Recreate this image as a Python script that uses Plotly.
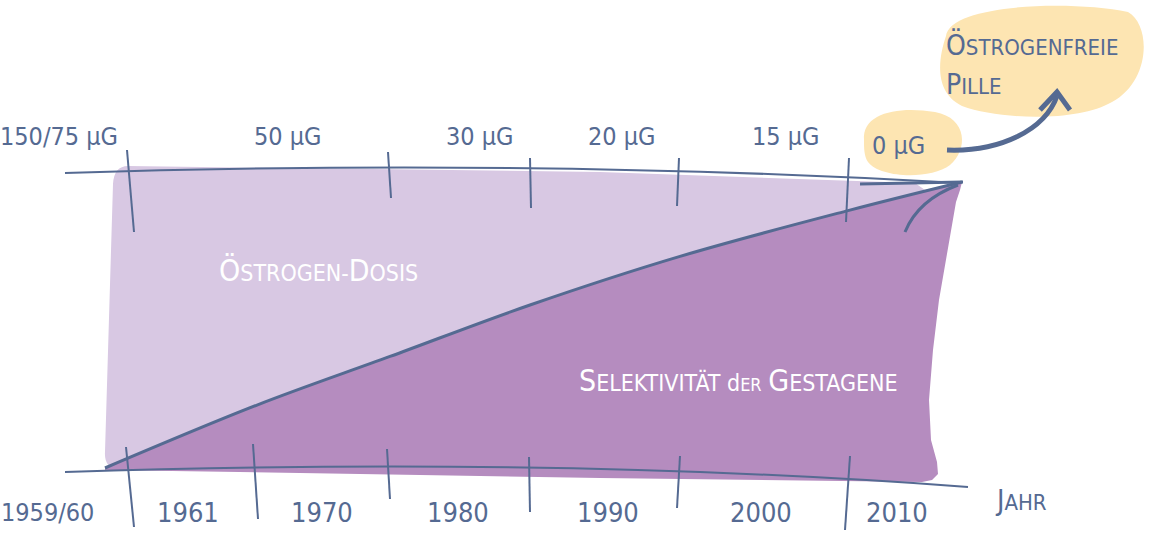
import plotly.graph_objects as go

# ---------------- data ----------------
dose_labels = ["150/75 µG", "50 µG", "30 µG", "20 µG", "15 µG", "0 µG"]
year_labels = ["1959/60", "1961", "1970", "1980", "1990", "2000", "2010"]
# relative selectivity of gestagens (0 = start, 1 = top), read along the time axis
selectivity = [0.0, 0.22, 0.39, 0.57, 0.74, 0.90, 1.0]

# ---------------- layout helpers (pixel frame) ----------------
INK = "#556a92"
LIGHT = "#d8c8e3"
DARK = "#b58cbf"
YELLOW = "#fde5b2"
FONT = "DejaVu Sans Condensed, Liberation Sans Narrow, sans-serif"

x_sel = [105, 257, 390, 530, 680, 848, 962]     # time positions of selectivity curve
y_bot, y_top = 468, 182
top_label_x = [59, 288, 480, 622, 786, 898]
top_label_y = [136, 136, 136, 136, 136, 145]
year_label_x = [47, 188, 322, 458, 608, 761, 897]
top_ticks = [((127, 150), (134, 232)), ((388, 152), (391, 198)), ((530, 158), (531, 208)),
             ((679, 158), (677, 206)), ((849, 158), (846, 222))]
bot_ticks = [((126, 447), (134, 527)), ((253, 444), (258, 519)), ((387, 449), (390, 499)),
             ((529, 457), (530, 512)), ((680, 456), (677, 508)), ((850, 456), (845, 530))]

fig = go.Figure()

shapes = []
# light estrogen area
shapes.append(dict(type="path", layer="below", line=dict(width=0), fillcolor=LIGHT,
    path="M 128,166 L 600,172 L 915,183 L 925,190 L 920,470 L 118,469 "
         "Q 104,468 105,452 L 113,184 Q 114,166 128,166 Z"))
# yellow blobs
shapes.append(dict(type="path", layer="below", line=dict(width=0), fillcolor=YELLOW,
    path="M 946,36 C 950,4 1070,0 1128,12 C 1152,26 1150,82 1112,102 "
         "C 1078,122 1000,120 962,106 C 934,92 938,60 946,36 Z"))
shapes.append(dict(type="path", layer="below", line=dict(width=0), fillcolor=YELLOW,
    path="M 864,140 C 862,112 900,106 935,112 C 968,118 968,150 950,165 "
         "C 930,180 880,178 868,162 C 864,156 864,148 864,140 Z"))

# dark selectivity area (built from the curve data)
ys = [y_bot - s * (y_bot - y_top) for s in selectivity]
fig.add_trace(go.Scatter(
    x=x_sel + [960, 956, 948, 939, 933, 929, 931, 937, 938, 932, 922, 600, 300, 105],
    y=ys + [190, 202, 250, 300, 350, 400, 440, 462, 474, 480, 482, 478, 473, 470],
    fill="toself", fillcolor=DARK, line=dict(width=0),
    mode="lines", hoverinfo="skip", showlegend=False))
# selectivity curve
fig.add_trace(go.Scatter(x=x_sel, y=ys, mode="lines",
    line=dict(color=INK, width=3, shape="spline"), hoverinfo="skip", showlegend=False))

# axis baselines (hand-drawn, slightly curved)
shapes.append(dict(type="path", line=dict(color=INK, width=2),
    path="M 65,173 Q 520,158 960,183"))
shapes.append(dict(type="path", line=dict(color=INK, width=2),
    path="M 65,472 Q 560,456 968,487"))
for (a, b) in top_ticks + bot_ticks:
    shapes.append(dict(type="line", x0=a[0], y0=a[1], x1=b[0], y1=b[1],
                       line=dict(color=INK, width=2)))
# accent strokes near the end of the curve
shapes.append(dict(type="line", x0=860, y0=184, x1=963, y1=182, line=dict(color=INK, width=3)))
shapes.append(dict(type="path", line=dict(color=INK, width=3),
    path="M 905,232 Q 918,200 958,185"))
# arrow to the estrogen-free pill
shapes.append(dict(type="path", line=dict(color=INK, width=5),
    path="M 947,150 C 1000,152 1045,130 1057,96"))
shapes.append(dict(type="path", line=dict(color=INK, width=5),
    path="M 1040,110 L 1057,92 L 1070,110"))

annotations = []
def sc(word, big=30, small=24):
    """emulate small caps: first letter big, rest small uppercase"""
    return f"<span style='font-size:{big}px'>{word[0]}</span>" + \
           f"<span style='font-size:{small}px'>{word[1:].upper()}</span>"

for lab, x, y in zip(dose_labels, top_label_x, top_label_y):
    annotations.append(dict(x=x, y=y, text=lab, showarrow=False,
                            font=dict(family=FONT, size=25, color=INK)))
for i, (lab, x) in enumerate(zip(year_labels, year_label_x)):
    annotations.append(dict(x=x, y=512, text=lab, showarrow=False,
                            font=dict(family=FONT, size=25 if i == 0 else 27, color=INK)))
annotations.append(dict(x=1021, y=500, text=sc("Jahr", 28, 22), showarrow=False,
                        font=dict(family=FONT, size=22, color=INK)))
annotations.append(dict(x=318, y=270, text=sc("Östrogen-", 30, 23) + sc("Dosis", 30, 23),
                        showarrow=False, font=dict(family=FONT, size=23, color="white")))
annotations.append(dict(x=738, y=380,
                        text=sc("Selektivität", 30, 23) + " " + sc("der", 23, 18) + " " + sc("Gestagene", 30, 23),
                        showarrow=False, font=dict(family=FONT, size=23, color="white")))
annotations.append(dict(x=944, y=45, xanchor="left", text=sc("Östrogenfreie", 28, 22),
                        showarrow=False, font=dict(family=FONT, size=22, color=INK)))
annotations.append(dict(x=944, y=84, xanchor="left", text=sc("Pille", 28, 22),
                        showarrow=False, font=dict(family=FONT, size=22, color=INK)))

fig.update_layout(
    width=1150, height=538, margin=dict(l=0, r=0, t=0, b=0),
    paper_bgcolor="white", plot_bgcolor="white",
    xaxis=dict(range=[0, 1150], visible=False, fixedrange=True),
    yaxis=dict(range=[538, 0], visible=False, fixedrange=True),
    shapes=shapes, annotations=annotations, showlegend=False,
)

fig.write_html("out.html", config={"displayModeBar": False},
               post_script="document.body.style.margin='0';")
